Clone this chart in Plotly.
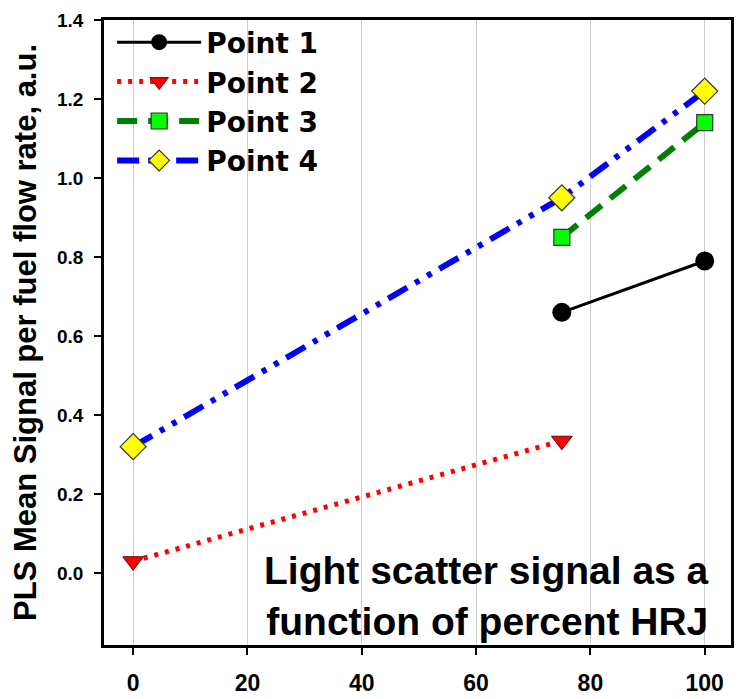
import plotly.graph_objects as go

names = ["Point 1", "Point 2", "Point 3", "Point 4"]
x1 = [75, 100]
y1 = [0.66, 0.79]
x2 = [0, 75]
y2 = [0.03, 0.335]
x3 = [75, 100]
y3 = [0.85, 1.14]
x4 = [0, 75, 100]
y4 = [0.32, 0.95, 1.22]
xticks = [0, 20, 40, 60, 80, 100]
yticks = [0.0, 0.2, 0.4, 0.6, 0.8, 1.0, 1.2, 1.4]

fig = go.Figure()
fig.add_trace(go.Scatter(x=x1, y=y1, name=names[0], mode="lines+markers",
                         line=dict(color="black", width=3),
                         marker=dict(symbol="circle", size=19, color="black")))
fig.add_trace(go.Scatter(x=x2, y=y2, name=names[1], mode="lines+markers",
                         line=dict(color="red", width=5, dash="4px,7px"),
                         marker=dict(symbol="triangle-down", size=18, color="red",
                                     line=dict(color="#600000", width=1))))
fig.add_trace(go.Scatter(x=x3, y=y3, name=names[2], mode="lines+markers",
                         line=dict(color="green", width=6, dash="20px,11px"),
                         marker=dict(symbol="square", size=16, color="#00ff00",
                                     line=dict(color="#333333", width=1.2))))
fig.add_trace(go.Scatter(x=x4, y=y4, name=names[3], mode="lines+markers",
                         line=dict(color="blue", width=6, dash="22px,9px,5px,9px,5px,9px"),
                         marker=dict(symbol="diamond", size=20, color="yellow",
                                     line=dict(color="#333333", width=1.2))))

fig.add_annotation(x=1.0, y=0.0, xref="paper", yref="paper",
                   xanchor="right", yanchor="bottom", xshift=-20, yshift=0,
                   text="Light scatter signal as a<br>function of percent HRJ",
                   showarrow=False, align="right",
                   font=dict(family="Liberation Sans, Arial", size=39,
                             color="black", weight="bold"))

fig.update_layout(
    width=741, height=699,
    margin=dict(l=104, r=10, t=20, b=54, autoexpand=False),
    paper_bgcolor="white", plot_bgcolor="white",
    font=dict(family="Liberation Sans, Arial", color="black"),
    showlegend=True,
    legend=dict(x=0.013, y=1.004, xanchor="left", yanchor="top",
                bgcolor="rgba(0,0,0,0)", itemwidth=84,
                font=dict(size=28, family="DejaVu Sans, Liberation Sans", weight="bold"),
                tracegroupgap=0),
    xaxis=dict(range=[-5.1, 104.6], tickvals=xticks, ticktext=[str(v) for v in xticks],
               automargin=False,
               showgrid=True, gridcolor="#cccccc", gridwidth=1,
               showline=True, linecolor="black", linewidth=2.5, mirror=True,
               ticks="outside", ticklen=7, tickcolor="black", tickwidth=1.5,
               ticklabelstandoff=9,
               tickfont=dict(size=23, family="Liberation Sans, Arial", weight="bold"),
               zeroline=False),
    yaxis=dict(range=[-0.182, 1.4], tickvals=yticks, ticktext=[f"{v:.1f}" for v in yticks],
               automargin=False,
               showgrid=False,
               showline=True, linecolor="black", linewidth=2.5, mirror=True,
               ticks="outside", ticklen=7, tickcolor="black", tickwidth=1.5,
               ticklabelstandoff=7,
               tickfont=dict(size=19, family="Liberation Sans, Arial", weight="bold"),
               title=dict(text="PLS Mean Signal per fuel flow rate, a.u.", standoff=12,
                          font=dict(size=31, family="Liberation Sans, Arial", weight="bold")),
               zeroline=False),
)

fig.write_html("out.html")
